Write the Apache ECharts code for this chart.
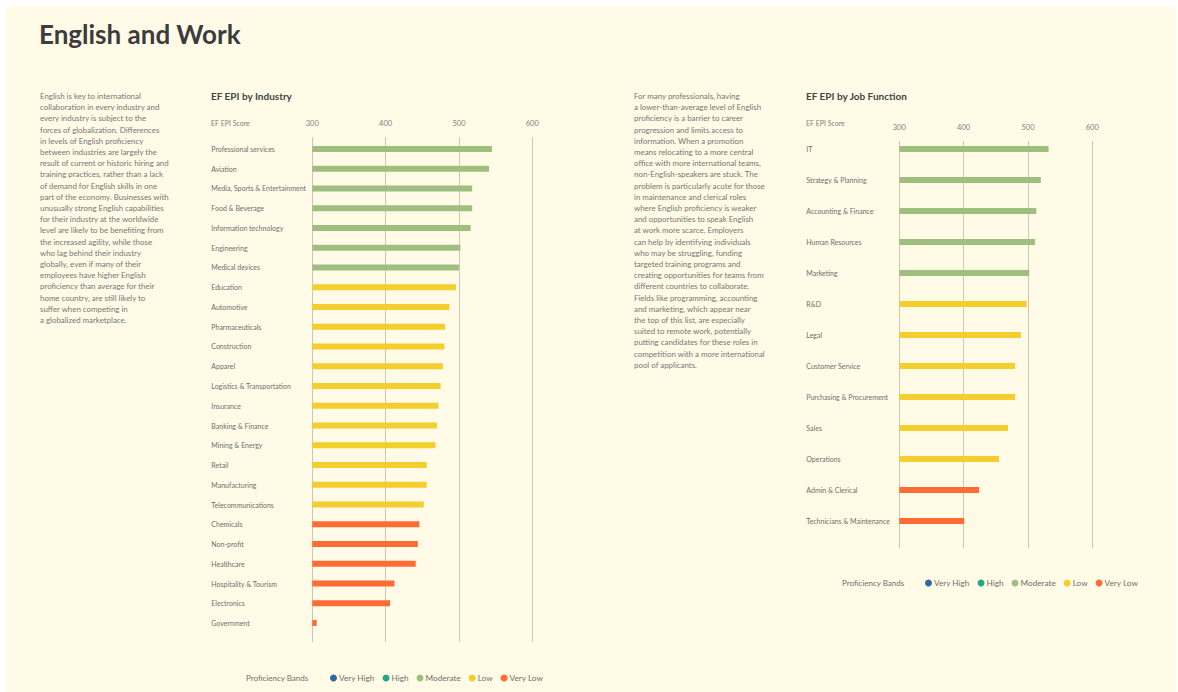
<!DOCTYPE html>
<html>
<head>
<meta charset="utf-8">
<script src="https://cdn.jsdelivr.net/npm/echarts@6/dist/echarts.min.js"></script>
<style>
html,body{margin:0;padding:0;background:#fff;}
#c{width:1178px;height:692px;}
</style>
</head>
<body>
<div id="c"></div>
<script>
// ---- Data ----
const bandNames = ['Very High', 'High', 'Moderate', 'Low', 'Very Low'];
const bandColors = ['#2e6a9c', '#23a78b', '#9fbf7f', '#f3ce2d', '#ff6b35'];

const industryNames = ['Professional services', 'Aviation', 'Media, Sports & Entertainment', 'Food & Beverage',
  'Information technology', 'Engineering', 'Medical devices', 'Education', 'Automotive', 'Pharmaceuticals',
  'Construction', 'Apparel', 'Logistics & Transportation', 'Insurance', 'Banking & Finance', 'Mining & Energy',
  'Retail', 'Manufacturing', 'Telecommunications', 'Chemicals', 'Non-profit', 'Healthcare',
  'Hospitality & Tourism', 'Electronics', 'Government'];
const industryScores = [545, 541, 518, 518, 516, 502, 500, 496, 487, 481, 480, 478, 475, 472, 470, 468,
  456, 456, 452, 446, 444, 441, 412, 406, 306];
const industryBands = ['Moderate', 'Moderate', 'Moderate', 'Moderate', 'Moderate', 'Moderate', 'Moderate',
  'Low', 'Low', 'Low', 'Low', 'Low', 'Low', 'Low', 'Low', 'Low', 'Low', 'Low', 'Low',
  'Very Low', 'Very Low', 'Very Low', 'Very Low', 'Very Low', 'Very Low'];

const jobNames = ['IT', 'Strategy & Planning', 'Accounting & Finance', 'Human Resources', 'Marketing', 'R&D',
  'Legal', 'Customer Service', 'Purchasing & Procurement', 'Sales', 'Operations', 'Admin & Clerical',
  'Technicians & Maintenance'];
const jobScores = [532, 520, 513, 511, 502, 498, 489, 480, 480, 469, 455, 424, 401];
const jobBands = ['Moderate', 'Moderate', 'Moderate', 'Moderate', 'Moderate', 'Low', 'Low', 'Low', 'Low',
  'Low', 'Low', 'Very Low', 'Very Low'];

const scoreTicks = [300, 400, 500, 600];

const leftText = [
  'English is key to international',
  'collaboration in every industry and',
  'every industry is subject to the',
  'forces of globalization. Differences',
  'in levels of English proficiency',
  'between industries are largely the',
  'result of current or historic hiring and',
  'training practices, rather than a lack',
  'of demand for English skills in one',
  'part of the economy. Businesses with',
  'unusually strong English capabilities',
  'for their industry at the worldwide',
  'level are likely to be benefiting from',
  'the increased agility, while those',
  'who lag behind their industry',
  'globally, even if many of their',
  'employees have higher English',
  'proficiency than average for their',
  'home country, are still likely to',
  'suffer when competing in',
  'a globalized marketplace.'
];
const rightText = [
  'For many professionals, having',
  'a lower-than-average level of English',
  'proficiency is a barrier to career',
  'progression and limits access to',
  'information. When a promotion',
  'means relocating to a more central',
  'office with more international teams,',
  'non-English-speakers are stuck. The',
  'problem is particularly acute for those',
  'in maintenance and clerical roles',
  'where English proficiency is weaker',
  'and opportunities to speak English',
  'at work more scarce. Employers',
  'can help by identifying individuals',
  'who may be struggling, funding',
  'targeted training programs and',
  'creating opportunities for teams from',
  'different countries to collaborate.',
  'Fields like programming, accounting',
  'and marketing, which appear near',
  'the top of this list, are especially',
  'suited to remote work, potentially',
  'putting candidates for these roles in',
  'competition with a more international',
  'pool of applicants.'
];

// ---- Chart ----
const FONT = 'Lato, "Noto Sans", sans-serif';
const chart = echarts.init(document.getElementById('c'), null, {renderer: 'svg'});

function bandData(scores, bands, band) {
  return scores.map((v, i) => bands[i] === band ? v : '-');
}

const series = [];
bandNames.forEach((b, k) => {
  series.push({
    name: b, type: 'bar', xAxisIndex: 0, yAxisIndex: 0,
    data: bandData(industryScores, industryBands, b),
    barWidth: 6, barGap: '-100%', itemStyle: {color: bandColors[k]}, silent: true
  });
  series.push({
    name: b, type: 'bar', xAxisIndex: 2, yAxisIndex: 2,
    data: bandData(jobScores, jobBands, b),
    barWidth: 6, barGap: '-100%', itemStyle: {color: bandColors[k]}, silent: true
  });
});

const gridLineColor = '#cbc7b5';
function linesAxis(gridIndex) {
  return {
    type: 'value', gridIndex, position: 'top', min: 300, max: 600, interval: 100,
    axisLine: {show: false}, axisTick: {show: false},
    axisLabel: {show: true, margin: 10, color: '#808080', fontSize: 7.5, fontFamily: FONT},
    splitLine: {show: true, lineStyle: {color: gridLineColor, width: 1}}
  };
}
function barsAxis(gridIndex) {
  return {type: 'value', gridIndex, min: 300, max: 600, show: false, splitLine: {show: false}};
}
function catAxis(gridIndex, names, margin) {
  return {
    type: 'category', gridIndex, data: names, inverse: true,
    axisLine: {show: false}, axisTick: {show: false}, splitLine: {show: false},
    axisLabel: {align: 'left', margin, color: '#6f6f6f', fontSize: 7, fontFamily: FONT, interval: 0}
  };
}
function hiddenY(gridIndex) {
  return {type: 'value', gridIndex, show: false, splitLine: {show: false}};
}

const textStyleBase = {fontFamily: FONT, fill: '#777777', fontSize: 7.9, lineHeight: 11.2};

chart.setOption({
  backgroundColor: '#ffffff',
  animation: false,
  grid: [
    {left: 312.3, width: 220, top: 139.1, height: 493.8},   // industry bars
    {left: 312.3, width: 220, top: 137, height: 505},       // industry lines
    {left: 899.3, width: 193, top: 133.5, height: 403},     // job bars
    {left: 899.3, width: 193, top: 141, height: 407}        // job lines
  ],
  xAxis: [barsAxis(0), linesAxis(1), barsAxis(2), linesAxis(3)],
  yAxis: [catAxis(0, industryNames, 101), hiddenY(1), catAxis(2, jobNames, 93), hiddenY(3)],
  legend: [
    {
      data: bandNames, left: 325, top: 669, icon: 'circle', itemWidth: 7, itemHeight: 7, itemGap: 8,
      selectedMode: false, textStyle: {color: '#6f6f6f', fontSize: 8.2, fontFamily: FONT, padding: [0, 0, 0, -3]}
    },
    {
      data: bandNames, left: 920, top: 574, icon: 'circle', itemWidth: 7, itemHeight: 7, itemGap: 8,
      selectedMode: false, textStyle: {color: '#6f6f6f', fontSize: 8.2, fontFamily: FONT, padding: [0, 0, 0, -3]}
    }
  ],
  graphic: [
    {type: 'rect', z: -10, silent: true, shape: {x: 6, y: 6, width: 1170, height: 686}, style: {fill: '#fffbe6'}},
    {type: 'text', left: 39, top: 21, style: {text: 'English and Work', fontFamily: FONT, fontWeight: 'bold',
      fontSize: 26, fill: '#3c3c3e'}},
    {type: 'text', x: 40, y: 90.4, style: Object.assign({text: leftText.join('\n'), verticalAlign: 'top'}, textStyleBase)},
    {type: 'text', x: 634, y: 90.4, style: Object.assign({text: rightText.join('\n'), verticalAlign: 'top'}, textStyleBase)},
    {type: 'text', x: 211, y: 96, style: {text: 'EF EPI by Industry', fontFamily: FONT, fontWeight: 'bold',
      fontSize: 10, fill: '#444', verticalAlign: 'middle'}},
    {type: 'text', x: 806, y: 96, style: {text: 'EF EPI by Job Function', fontFamily: FONT, fontWeight: 'bold',
      fontSize: 10, fill: '#444', verticalAlign: 'middle'}},
    {type: 'text', x: 211, y: 123, style: {text: 'EF EPI Score', fontFamily: FONT, fontSize: 7,
      fill: '#808080', verticalAlign: 'middle'}},
    {type: 'text', x: 806, y: 123, style: {text: 'EF EPI Score', fontFamily: FONT, fontSize: 7,
      fill: '#808080', verticalAlign: 'middle'}},
    {type: 'text', x: 246, y: 678, style: {text: 'Proficiency Bands', fontFamily: FONT, fontSize: 8,
      fill: '#6f6f6f', verticalAlign: 'middle'}},
    {type: 'text', x: 842, y: 583, style: {text: 'Proficiency Bands', fontFamily: FONT, fontSize: 8,
      fill: '#6f6f6f', verticalAlign: 'middle'}}
  ],
  series
});
</script>
</body>
</html>
